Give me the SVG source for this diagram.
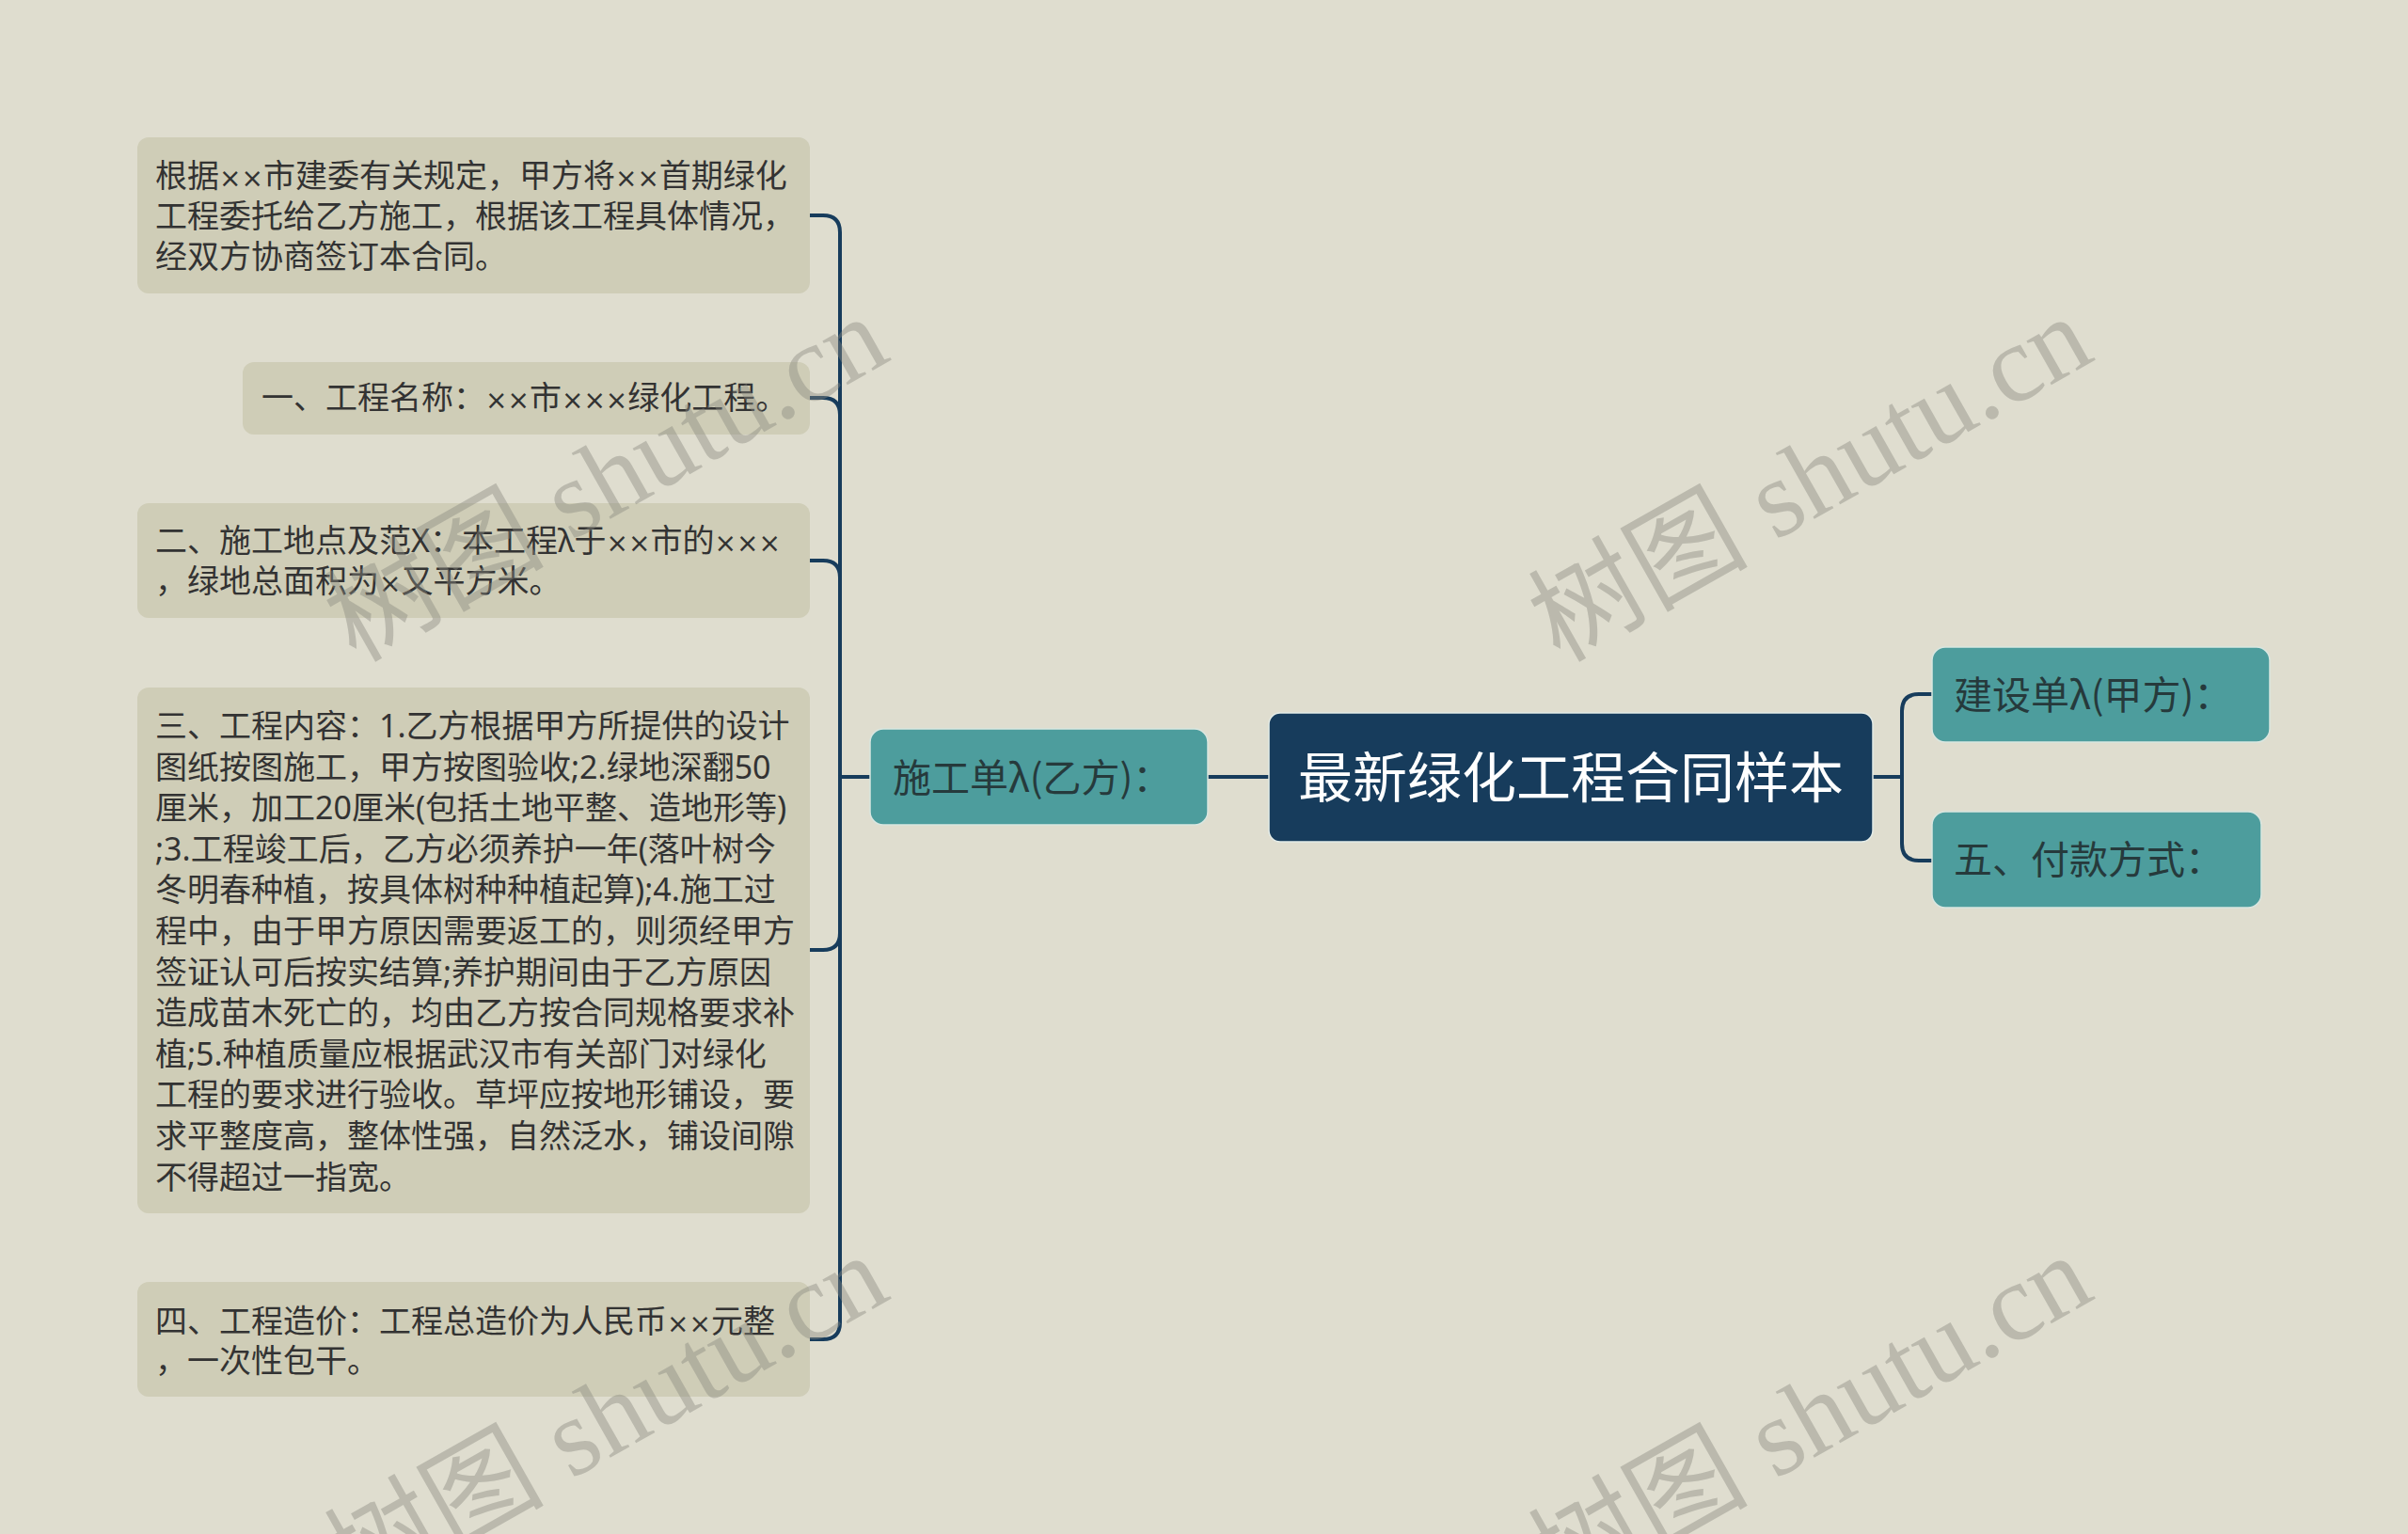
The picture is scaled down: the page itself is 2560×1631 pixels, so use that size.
<svg xmlns="http://www.w3.org/2000/svg" width="2560" height="1631" viewBox="0 0 2560 1631">
<style>
.leaf{fill:#cfcdb7;}
.lt{font-family:"Noto Sans","Noto Sans CJK SC",sans-serif;font-size:34px;fill:#333333;}
.x{font-family:"DejaVu Sans",sans-serif;font-size:28px;}
.sub{fill:#4d9d9d;stroke:#d9e6e0;stroke-width:1.5;}
.st{font-family:"Noto Sans CJK SC","Liberation Sans",sans-serif;font-size:41px;fill:#263a3c;}
.root{fill:#173c5c;stroke:#e4ece8;stroke-width:1.5;}
.rt{font-family:"Noto Sans CJK SC","Liberation Sans",sans-serif;font-size:58px;fill:#ffffff;}
.ln{fill:none;stroke:#173c5c;stroke-width:4;stroke-linecap:round;}
.wm{font-family:"Liberation Serif","Noto Sans CJK SC",serif;font-size:117px;fill:#8a8a80;opacity:0.42;}
</style>
<rect width="2560" height="1631" fill="#dfddcf"/>
<g id="connectors">
<path class="ln" d="M1349 826 H1284"/>
<path class="ln" d="M925 826 H893"/>
<path class="ln" d="M893 826 V247 Q893 229 875 229 H861"/>
<path class="ln" d="M893 826 V441 Q893 423 875 423 H861"/>
<path class="ln" d="M893 826 V614 Q893 596 875 596 H861"/>
<path class="ln" d="M893 826 V992 Q893 1010 875 1010 H861"/>
<path class="ln" d="M893 826 V1406 Q893 1424 875 1424 H861"/>
<path class="ln" d="M1991 826 H2022"/>
<path class="ln" d="M2022 826 V756 Q2022 738 2040 738 H2054"/>
<path class="ln" d="M2022 826 V897 Q2022 915 2040 915 H2054"/>
</g>
<g id="root">
<rect class="root" x="1349" y="758" width="642" height="137" rx="12"/>
<text class="rt" x="1670" y="848" text-anchor="middle">最新绿化工程合同样本</text>
</g>
<g id="n-yi">
<rect class="sub" x="925" y="775" width="359" height="102" rx="14"/>
<text class="st" x="949" y="842">施工单λ(乙方)：</text>
</g>
<g id="n-jia">
<rect class="sub" x="2054" y="688" width="359" height="101" rx="14"/>
<text class="st" x="2077" y="754">建设单λ(甲方)：</text>
</g>
<g id="n-pay">
<rect class="sub" x="2054" y="863" width="350" height="102" rx="14"/>
<text class="st" x="2077" y="929">五、付款方式：</text>
</g>
<g id="leaf1">
<rect class="leaf" x="146" y="146" width="715" height="166" rx="12"/>
<text class="lt" x="165" y="199">根据<tspan class="x">××</tspan>市建委有关规定，甲方将<tspan class="x">××</tspan>首期绿化</text>
<text class="lt" x="165" y="242">工程委托给乙方施工，根据该工程具体情况，</text>
<text class="lt" x="165" y="285">经双方协商签订本合同。</text>
</g>
<g id="leaf2">
<rect class="leaf" x="258" y="385" width="603" height="77" rx="12"/>
<text class="lt" x="278" y="435">一、工程名称：<tspan class="x">××</tspan>市<tspan class="x">×××</tspan>绿化工程。</text>
</g>
<g id="leaf3">
<rect class="leaf" x="146" y="535" width="715" height="122" rx="12"/>
<text class="lt" x="165" y="587">二、施工地点及范X：本工程λ于<tspan class="x">××</tspan>市的<tspan class="x">×××</tspan></text>
<text class="lt" x="165" y="630">，绿地总面积为<tspan class="x">×</tspan>又平方米。</text>
</g>
<g id="leaf4">
<rect class="leaf" x="146" y="731" width="715" height="559" rx="12"/>
<text class="lt" x="165" y="784">三、工程内容：1.乙方根据甲方所提供的设计</text>
<text class="lt" x="165" y="827.6">图纸按图施工，甲方按图验收;2.绿地深翻50</text>
<text class="lt" x="165" y="871.2">厘米，加工20厘米(包括土地平整、造地形等)</text>
<text class="lt" x="165" y="914.8">;3.工程竣工后，乙方必须养护一年(落叶树今</text>
<text class="lt" x="165" y="958.4">冬明春种植，按具体树种种植起算);4.施工过</text>
<text class="lt" x="165" y="1002">程中，由于甲方原因需要返工的，则须经甲方</text>
<text class="lt" x="165" y="1045.6">签证认可后按实结算;养护期间由于乙方原因</text>
<text class="lt" x="165" y="1089.2">造成苗木死亡的，均由乙方按合同规格要求补</text>
<text class="lt" x="165" y="1132.8">植;5.种植质量应根据武汉市有关部门对绿化</text>
<text class="lt" x="165" y="1176.4">工程的要求进行验收。草坪应按地形铺设，要</text>
<text class="lt" x="165" y="1220">求平整度高，整体性强，自然泛水，铺设间隙</text>
<text class="lt" x="165" y="1263.6">不得超过一指宽。</text>
</g>
<g id="leaf5">
<rect class="leaf" x="146" y="1363" width="715" height="122" rx="12"/>
<text class="lt" x="165" y="1417">四、工程造价：工程总造价为人民币<tspan class="x">××</tspan>元整</text>
<text class="lt" x="165" y="1459">，一次性包干。</text>
</g>
<g id="watermarks">
<text class="wm" transform="translate(378 705) rotate(-29.5)">树图 shutu.cn</text>
<text class="wm" transform="translate(1658 705) rotate(-29.5)">树图 shutu.cn</text>
<text class="wm" transform="translate(378 1703) rotate(-29.5)">树图 shutu.cn</text>
<text class="wm" transform="translate(1658 1703) rotate(-29.5)">树图 shutu.cn</text>
</g>
</svg>
